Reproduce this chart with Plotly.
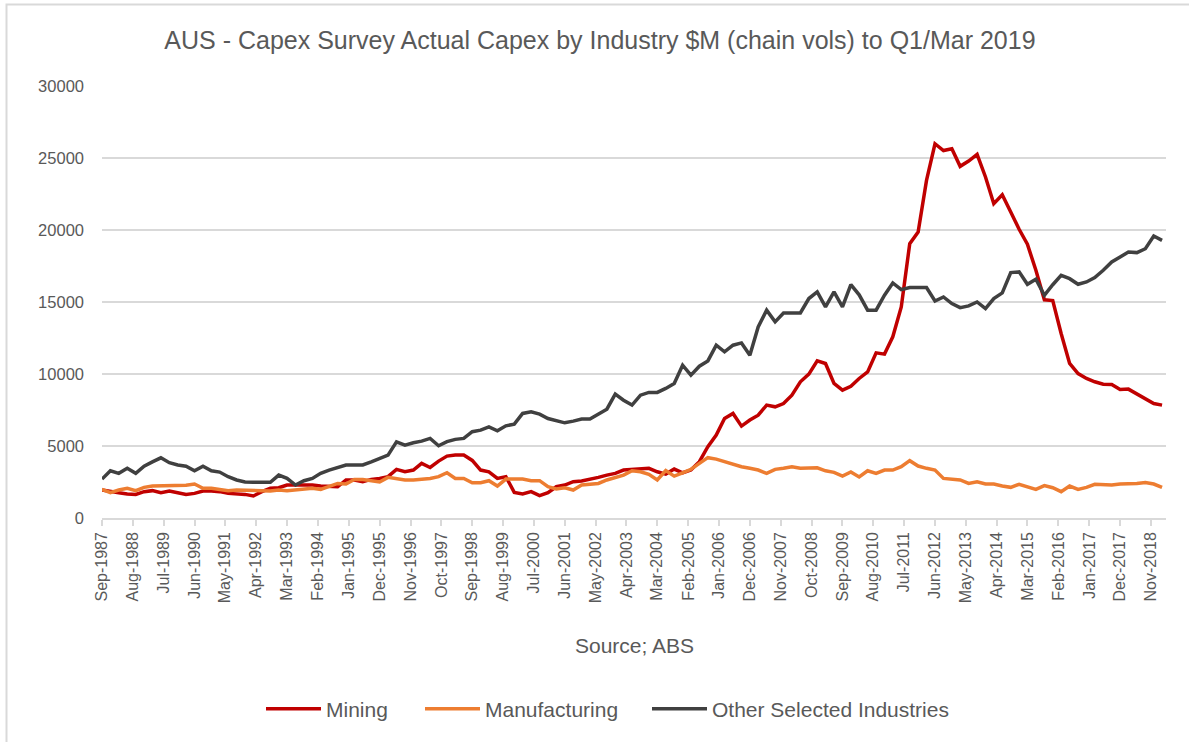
import plotly.graph_objects as go
import pandas as pd

start = "1987-09-01"
n_q = 127
dates = pd.date_range(start, periods=n_q, freq="3MS")

mining = [1950, 1830, 1760, 1670, 1640, 1830, 1900, 1760, 1870, 1760,
          1640, 1710, 1870, 1870, 1830, 1710, 1670, 1640, 1530, 1830,
          2060, 2100, 2290, 2300, 2290, 2290, 2220, 2170, 2170, 2640,
          2640, 2520, 2680, 2750, 2870, 3380, 3210, 3330, 3790, 3510,
          3950, 4300, 4370, 4370, 4000, 3330, 3210, 2750, 2870, 1780,
          1670, 1830, 1550, 1760, 2170, 2290, 2520, 2570, 2680, 2820,
          2980, 3100, 3330, 3380, 3400, 3450, 3210, 3050, 3400, 3140,
          3330, 3910, 4950, 5760, 6910, 7260, 6380, 6800, 7140, 7840,
          7720, 7950, 8530, 9460, 9990, 10910, 10730, 9340, 8880, 9150,
          9690, 10150, 11470, 11380, 12580, 14660, 19050, 19860, 23440, 25990,
          25520, 25640, 24420, 24790, 25250, 23680, 21830, 22450, 21250, 20050,
          19010, 17200, 15150, 15100, 12810, 10730, 10030, 9690, 9460, 9290,
          9270, 8920, 8950, 8600, 8300, 7950, 7840]

manufacturing = [1990, 1760, 1940, 2060, 1900, 2130, 2220, 2220, 2220, 2270,
                 2270, 2360, 2060, 2060, 1990, 1900, 1940, 1940, 1900, 1900,
                 1870, 1940, 1900, 1940, 2010, 2060, 1990, 2220, 2400, 2360,
                 2680, 2680, 2570, 2500, 2820, 2750, 2640, 2640, 2680, 2750,
                 2870, 3140, 2750, 2750, 2450, 2450, 2590, 2220, 2700, 2700,
                 2700, 2590, 2590, 2170, 2010, 2100, 1940, 2290, 2360, 2400,
                 2640, 2800, 2980, 3280, 3210, 3030, 2640, 3300, 2910, 3140,
                 3380, 3790, 4190, 4090, 3910, 3720, 3560, 3450, 3330, 3100,
                 3380, 3450, 3560, 3450, 3450, 3490, 3280, 3170, 2910, 3200,
                 2850, 3280, 3100, 3330, 3330, 3560, 3980, 3610, 3450, 3330,
                 2750, 2680, 2640, 2400, 2520, 2360, 2360, 2220, 2130, 2340,
                 2170, 1990, 2250, 2100, 1830, 2220, 1990, 2130, 2340, 2340,
                 2290, 2360, 2360, 2400, 2470, 2360, 2130]

other = [2700, 3280, 3100, 3450, 3100, 3600, 3900, 4180, 3840, 3680,
         3600, 3280, 3600, 3280, 3190, 2870, 2640, 2500, 2480, 2480,
         2480, 2980, 2750, 2290, 2590, 2750, 3100, 3330, 3490, 3680,
         3680, 3680, 3900, 4140, 4370, 5290, 5060, 5225, 5340, 5525,
         5020, 5300, 5460, 5525, 5990, 6100, 6330, 6060, 6400, 6520,
         7260, 7380, 7210, 6910, 6730, 6610, 6730, 6870, 6870, 7210,
         7560, 8600, 8180, 7840, 8530, 8720, 8720, 9000, 9340, 10610,
         9920, 10540, 10910, 12000, 11540, 12000, 12160, 11310, 13270, 14430,
         13620, 14240, 14260, 14240, 15240, 15700, 14660, 15700, 14660, 16210,
         15500, 14430, 14430, 15470, 16320, 15860, 16000, 16000, 16000, 15070,
         15350, 14890, 14610, 14730, 15000, 14540, 15240, 15630, 17040, 17090,
         16230, 16580, 15470, 16200, 16850, 16620, 16230, 16390, 16690, 17200,
         17780, 18130, 18470, 18430, 18700, 19580, 19280]

series_names = ["Mining", "Manufacturing", "Other Selected Industries"]
series_colors = ["#C00000", "#ED7D31", "#404040"]

tick_dates = pd.date_range(start, periods=35, freq="11MS")
tick_text = [d.strftime("%b-%Y") for d in tick_dates]

FONT = "Liberation Sans, Arial, sans-serif"
GREY_TXT = "#595959"
GRID = "#d9d9d9"

L, R, T, B = 102, 23, 86, 224
W, H = 1189, 742
pw, ph = W - L - R, H - T - B

legend_ids = ["legend", "legend2", "legend3"]
legend_left_px = [266, 425, 652]

fig = go.Figure()
for name, vals, col, lid in zip(series_names, [mining, manufacturing, other], series_colors, legend_ids):
    fig.add_trace(go.Scatter(x=dates, y=vals, mode="lines", name=name, legend=lid,
                             line=dict(color=col, width=3.5)))

OFF = 5
legend_common = dict(orientation="h", xanchor="left", yanchor="middle",
                     y=(T + ph - 709) / ph,
                     font=dict(size=21, color=GREY_TXT, family=FONT),
                     itemwidth=55, bgcolor="rgba(0,0,0,0)")

fig.update_layout(
    width=W, height=H,
    margin=dict(l=L, r=R, t=T, b=B),
    paper_bgcolor="white", plot_bgcolor="white",
    font=dict(family=FONT, color=GREY_TXT),
    title=dict(text="AUS - Capex Survey Actual Capex by Industry $M (chain vols) to Q1/Mar 2019",
               x=0.5046, xanchor="center", y=1 - 40 / H, yanchor="middle",
               font=dict(size=25, color=GREY_TXT, family=FONT)),
    showlegend=True,
    legend=dict(x=(legend_left_px[0] - OFF - L) / pw, **legend_common),
    legend2=dict(x=(legend_left_px[1] - OFF - L) / pw, **legend_common),
    legend3=dict(x=(legend_left_px[2] - OFF - L) / pw, **legend_common),
    xaxis=dict(type="date",
               range=[pd.Timestamp("1987-09-01"), pd.Timestamp("2019-04-13")],
               tickvals=list(tick_dates), ticktext=tick_text, tickangle=-90,
               tickfont=dict(size=16, color=GREY_TXT, family=FONT),
               ticks="outside", ticklen=6, tickcolor=GRID, tickwidth=1.5,
               showline=True, linecolor=GRID, linewidth=1.5,
               showgrid=False, zeroline=False),
    yaxis=dict(range=[0, 30000], dtick=5000, tickformat="d",
               tickfont=dict(size=16.5, color=GREY_TXT, family=FONT),
               showgrid=True, gridcolor=GRID, gridwidth=1.5,
               zeroline=False, showline=False, ticks="", ticklabelstandoff=17),
)

fig.add_annotation(text="Source; ABS", xref="paper", yref="paper",
                   x=(634 - L) / pw, y=(T + ph - 645) / ph, xanchor="center", yanchor="middle",
                   showarrow=False, font=dict(size=21, color=GREY_TXT, family=FONT))

# chart border
fig.add_shape(type="rect", xref="paper", yref="paper",
              x0=(6.5 - L) / pw, x1=(W + 10 - L) / pw,
              y0=(T + ph - (H + 10)) / ph, y1=(T + ph - 4.5) / ph,
              line=dict(color=GRID, width=2), fillcolor="rgba(0,0,0,0)", layer="below")

fig.write_html("out.html")
